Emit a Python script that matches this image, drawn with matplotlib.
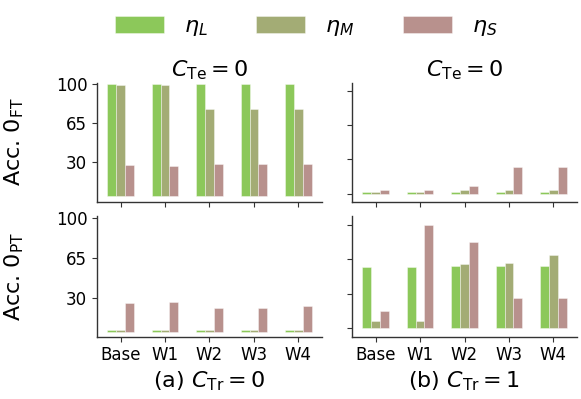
import matplotlib
matplotlib.use("Agg")
import matplotlib.pyplot as plt
import numpy as np

categories = ["Base", "W1", "W2", "W3", "W4"]
series_names = [r"$\eta_L$", r"$\eta_M$", r"$\eta_S$"]
colors = ["#8cc85a", "#a3ac75", "#b8918d"]

# (a) C_Tr = 0, FT row
ft_a_L = [100, 100, 100, 100, 100]
ft_a_M = [99, 99, 78, 78, 78]
ft_a_S = [27.4, 27, 28.7, 28.7, 28.3]
# (b) C_Tr = 1, FT row
ft_b_L = [1.5, 1.5, 1.5, 1.5, 1.5]
ft_b_M = [1.5, 1.5, 3, 3.5, 3.5]
ft_b_S = [3.6, 3.6, 7.5, 26.2, 26.2]
# (a) C_Tr = 0, PT row
pt_a_L = [1.5, 1.5, 1.5, 1.5, 1.5]
pt_a_M = [1.5, 1.5, 1.5, 1.5, 1.5]
pt_a_S = [25.6, 26.2, 21.2, 21.2, 22.4]
# (b) C_Tr = 1, PT row
pt_b_L = [59, 59, 60, 60, 60]
pt_b_M = [6.5, 6.5, 62, 63.5, 71]
pt_b_S = [17, 100, 83, 29, 29]

left_ticks = [30, 65, 100]
right_ticks = [0, 33.3, 66.7, 100]

W, H = 581, 399
fig = plt.figure(figsize=(W / 100, H / 100), dpi=100)

def rect(x0, x1, ytop, ybot):
    return [x0 / W, 1 - ybot / H, (x1 - x0) / W, (ybot - ytop) / H]

ax_tl = fig.add_axes(rect(97, 322, 82.5, 202))
ax_tr = fig.add_axes(rect(352, 577, 82.5, 202))
ax_bl = fig.add_axes(rect(97, 322, 216, 336.7))
ax_br = fig.add_axes(rect(352, 577, 216, 336.7))

x = np.arange(len(categories))
bw = 0.2

panels = [
    (ax_tl, [ft_a_L, ft_a_M, ft_a_S]),
    (ax_tr, [ft_b_L, ft_b_M, ft_b_S]),
    (ax_bl, [pt_a_L, pt_a_M, pt_a_S]),
    (ax_br, [pt_b_L, pt_b_M, pt_b_S]),
]

bars_for_legend = []
for ax, series in panels:
    hs = []
    for i, vals in enumerate(series):
        h = ax.bar(x + (i - 1) * bw, vals, width=bw, color=colors[i],
                   edgecolor=(1, 1, 1, 0.45), linewidth=0.6,
                   label=series_names[i])
        hs.append(h)
    if ax is ax_tl:
        bars_for_legend = hs
    ax.spines["top"].set_visible(False)
    ax.spines["right"].set_visible(False)
    for s in ["left", "bottom"]:
        ax.spines[s].set_color("#333333")
        ax.spines[s].set_linewidth(1.0)
    ax.set_xticks(x)
    ax.tick_params(axis="both", labelsize=12, color="#333333", length=3.5)
    ax.set_xlim(-0.53, 4.53)

ax_tl.set_xticklabels([])
ax_tr.set_xticklabels([])
ax_bl.set_xticklabels(categories)
ax_br.set_xticklabels(categories)

for ax in (ax_tl, ax_bl):
    ax.set_yticks(left_ticks)
    ax.set_yticklabels([str(t) for t in left_ticks])
for ax in (ax_tr, ax_br):
    ax.set_yticks(right_ticks)
    ax.set_yticklabels([])

ax_tl.set_ylim(-5.5, 101.5)
ax_bl.set_ylim(-4.2, 102)
ax_tr.set_ylim(-8.3, 108.5)
ax_br.set_ylim(-8.3, 108.5)

ax_tl.set_title(r"$C_{\mathrm{Te}}=0$", fontsize=16, pad=3.7)
ax_tr.set_title(r"$C_{\mathrm{Te}}=0$", fontsize=16, pad=3.7)

fig.text(14 / W, 1 - 142 / H, r"Acc. $0_{\mathrm{FT}}$", rotation=90,
         fontsize=16, ha="center", va="center")
fig.text(14 / W, 1 - 276 / H, r"Acc. $0_{\mathrm{PT}}$", rotation=90,
         fontsize=16, ha="center", va="center")

fig.text(209.5 / W, 1 - 381 / H, r"(a) $C_{\mathrm{Tr}}=0$", fontsize=16,
         ha="center", va="center")
fig.text(464.5 / W, 1 - 381 / H, r"(b) $C_{\mathrm{Tr}}=1$", fontsize=16,
         ha="center", va="center")

fig.legend(bars_for_legend, series_names, loc="center",
           bbox_to_anchor=(0.527, 1 - 27 / H), ncol=3, frameon=False,
           fontsize=16, handlelength=2.2, handleheight=0.8,
           handletextpad=0.9, columnspacing=2.2)

fig.savefig("out.png", dpi=100)
